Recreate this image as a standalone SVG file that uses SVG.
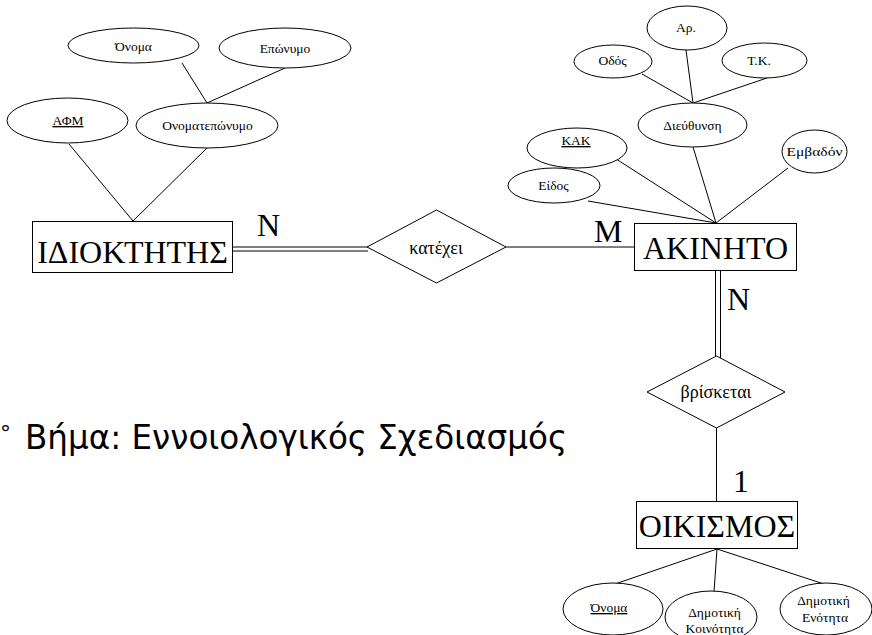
<svg xmlns="http://www.w3.org/2000/svg" width="872" height="635" viewBox="0 0 872 635">
<style>
  .shape { fill: #ffffff; stroke: #000000; stroke-width: 1; }
  .ln { stroke: #000000; stroke-width: 1; fill: none; }
  .ent { font-family: "Liberation Serif", "Times New Roman", serif; font-size: 32px; fill: #000; text-anchor: middle; }
  .rel { font-family: "Liberation Serif", "Times New Roman", serif; font-size: 18px; fill: #000; text-anchor: middle; }
  .att { font-family: "Liberation Serif", "Times New Roman", serif; font-size: 13.5px; fill: #000; text-anchor: middle; }
  .card { font-family: "Liberation Serif", "Times New Roman", serif; font-size: 32px; fill: #000; }
  .title { font-family: "DejaVu Sans", "Noto Sans", sans-serif; font-size: 33px; fill: #000; }
  .deg { font-family: "DejaVu Sans", "Noto Sans", sans-serif; font-size: 22px; fill: #000; }
  .key { text-decoration: underline; }
</style>
<rect x="0" y="0" width="872" height="635" fill="#ffffff"/>

<g id="connectors">
  <line class="ln" x1="182" y1="63" x2="207" y2="103"/>
  <line class="ln" x1="285" y1="68" x2="207" y2="103"/>
  <line class="ln" x1="69" y1="144" x2="133" y2="221"/>
  <line class="ln" x1="207" y1="148" x2="133" y2="221"/>
  <line class="ln" x1="642" y1="74" x2="693" y2="103"/>
  <line class="ln" x1="686" y1="50" x2="693" y2="103"/>
  <line class="ln" x1="767" y1="78" x2="693" y2="103"/>
  <line class="ln" x1="588" y1="201" x2="716" y2="223"/>
  <line class="ln" x1="613" y1="157" x2="716" y2="223"/>
  <line class="ln" x1="693" y1="147" x2="716" y2="223"/>
  <line class="ln" x1="788" y1="168" x2="716" y2="223"/>
  <line class="ln" x1="717" y1="549" x2="615" y2="584"/>
  <line class="ln" x1="717" y1="549" x2="714" y2="592"/>
  <line class="ln" x1="717" y1="549" x2="827" y2="585"/>
  <line class="ln" x1="233" y1="247" x2="368" y2="247"/>
  <line class="ln" x1="233" y1="251" x2="368" y2="251"/>
  <line class="ln" x1="506" y1="247" x2="634" y2="247"/>
  <line class="ln" x1="715.5" y1="271" x2="715.5" y2="356"/>
  <line class="ln" x1="720.5" y1="271" x2="720.5" y2="358"/>
  <line class="ln" x1="716.5" y1="428" x2="716.5" y2="501"/>
</g>

<g id="attr-onoma1"><ellipse class="shape" cx="133.5" cy="45.5" rx="65.5" ry="17.5"/><text class="att" x="133.5" y="51">Όνομα</text></g>
<g id="attr-eponymo"><ellipse class="shape" cx="285" cy="48" rx="66" ry="20"/><text class="att" x="285" y="53">Επώνυμο</text></g>
<g id="attr-afm"><ellipse class="shape" cx="67.5" cy="120.5" rx="60.5" ry="22.5"/><text class="att key" x="68" y="125">ΑΦΜ</text></g>
<g id="attr-onomateponymo"><ellipse class="shape" cx="207" cy="125.5" rx="71" ry="22.5"/><text class="att" x="207.5" y="130">Ονοματεπώνυμο</text></g>

<g id="attr-ar"><ellipse class="shape" cx="687" cy="28" rx="40" ry="22"/><text class="att" x="686" y="32">Αρ.</text></g>
<g id="attr-odos"><ellipse class="shape" cx="613" cy="61.5" rx="39" ry="16.5"/><text class="att" x="612.5" y="65">Οδός</text></g>
<g id="attr-tk"><ellipse class="shape" cx="764.5" cy="60.5" rx="42.5" ry="17.5"/><text class="att" x="759" y="65">Τ.Κ.</text></g>
<g id="attr-dieuthynsi"><ellipse class="shape" cx="692.5" cy="125" rx="54.5" ry="22"/><text class="att" x="692.5" y="130">Διεύθυνση</text></g>
<g id="attr-kak"><ellipse class="shape" cx="577" cy="148" rx="50" ry="20"/><text class="att key" x="576" y="145">ΚΑΚ</text></g>
<g id="attr-emvadon"><ellipse class="shape" cx="814.5" cy="151.5" rx="32.5" ry="21.5"/><text class="att" x="814.5" y="156" textLength="56" lengthAdjust="spacingAndGlyphs">Εμβαδόν</text></g>
<g id="attr-eidos"><ellipse class="shape" cx="554" cy="185.5" rx="46" ry="17.5"/><text class="att" x="553.5" y="190">Είδος</text></g>

<g id="attr-onoma2"><ellipse class="shape" cx="613" cy="609" rx="50" ry="26"/><text class="att key" x="609" y="612">Όνομα</text></g>
<g id="attr-koinotita"><ellipse class="shape" cx="711" cy="617" rx="46" ry="26"/><text class="att" x="714.5" y="617">Δημοτική</text><text class="att" x="714.5" y="633">Κοινότητα</text></g>
<g id="attr-enotita"><ellipse class="shape" cx="826" cy="609" rx="46" ry="26"/><text class="att" x="823.5" y="605">Δημοτική</text><text class="att" x="825" y="622">Ενότητα</text></g>

<g id="idioktitis"><rect class="shape" x="32.5" y="221.5" width="200" height="51"/><text class="ent" x="132.5" y="263">ΙΔΙΟΚΤΗΤΗΣ</text></g>
<g id="katexei"><polygon class="shape" points="367,247 436.5,210 506,247 436.5,283"/><text class="rel" x="436" y="254">κατέχει</text></g>
<g id="akinito"><rect class="shape" x="634.5" y="223.5" width="162" height="47"/><text class="ent" x="715.5" y="259">ΑΚΙΝΗΤΟ</text></g>
<g id="vrisketai"><polygon class="shape" points="647,392 716.5,356 785,392 716.5,428"/><text class="rel" x="716" y="398">βρίσκεται</text></g>
<g id="oikismos"><rect class="shape" x="636.5" y="501.5" width="161" height="47"/><text class="ent" x="717" y="537">ΟΙΚΙΣΜΟΣ</text></g>

<g id="cardinalities">
  <text class="card" x="257" y="236">N</text>
  <text class="card" x="594" y="242">M</text>
  <text class="card" x="727" y="310">N</text>
  <text class="card" x="733" y="492">1</text>
</g>

<text class="title" y="449"><tspan class="deg" x="0" y="441">°</tspan><tspan x="25" y="449" textLength="542" lengthAdjust="spacingAndGlyphs">Βήμα: Εννοιολογικός Σχεδιασμός</tspan></text>
</svg>
